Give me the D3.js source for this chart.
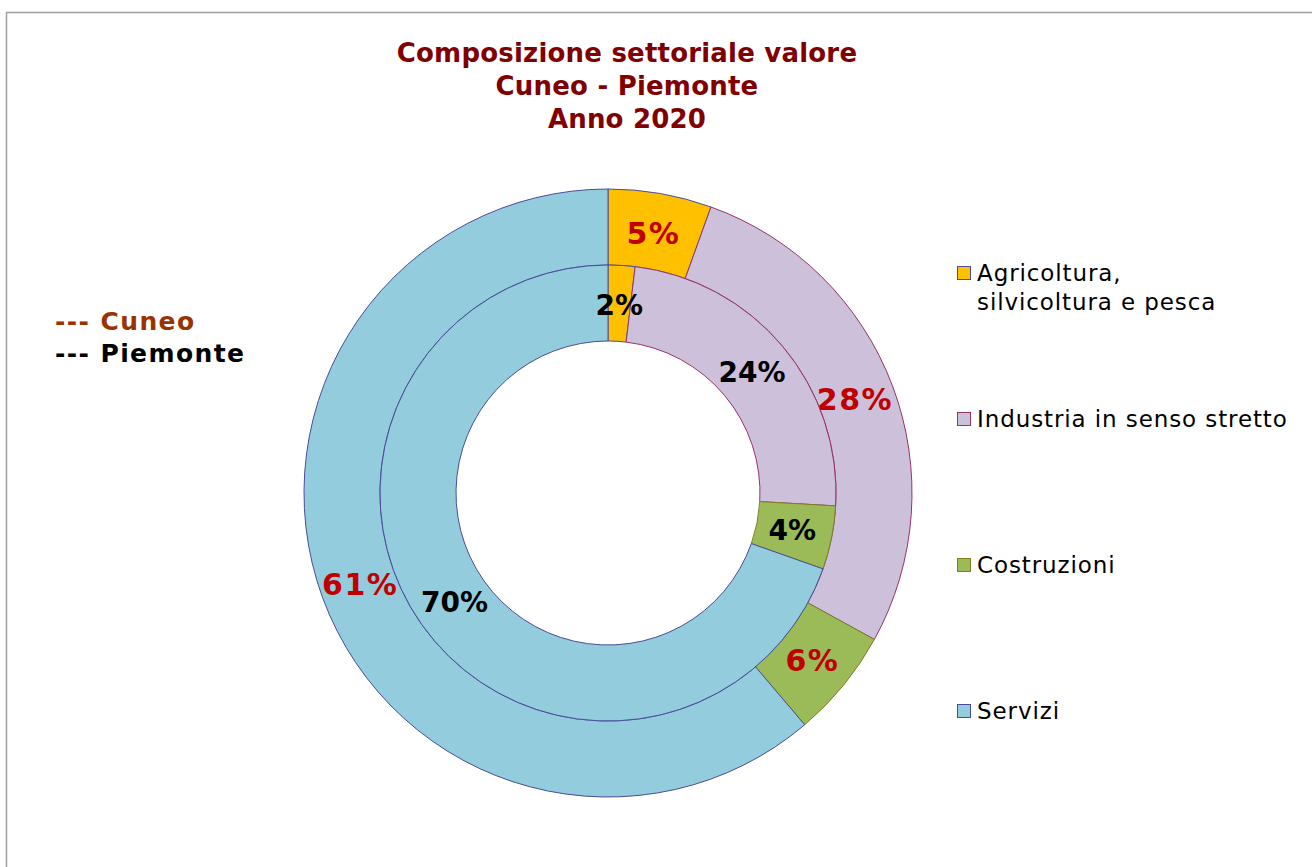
<!DOCTYPE html>
<html>
<head>
<meta charset="utf-8">
<script src="https://cdn.jsdelivr.net/npm/d3@7"></script>
<style>
  body { margin: 0; background: #fff; }
  svg text { font-family: "DejaVu Sans", Verdana, sans-serif; }
</style>
</head>
<body>
<div id="chart"></div>
<script>
// sectors and shares (%)
var categories = ["Agricoltura, silvicoltura e pesca", "Industria in senso stretto", "Costruzioni", "Servizi"];
var legendLines = [["Agricoltura,", "silvicoltura e pesca"], ["Industria in senso stretto"], ["Costruzioni"], ["Servizi"]];
var cuneo = [5.5, 27.5, 5.8, 61.2];
var piemonte = [1.9, 24.0, 4.5, 69.6];
var cuneoLabels = ["5%", "28%", "6%", "61%"];
var piemonteLabels = ["2%", "24%", "4%", "70%"];
var titleLines = ["Composizione settoriale valore", "Cuneo - Piemonte", "Anno 2020"];

var fills = ["#ffc000", "#ccc0da", "#9bbb59", "#93cddd"];
var strokes = ["#4b4ba0", "#993366", "#7f7f20", "#4b4b9a"];

var W = 1312, H = 867;
var cx = 608, cy = 493;
var rOuter = 304, rMid = 228, rInner = 152;

var svg = d3.select("#chart").append("svg")
    .attr("width", W)
    .attr("height", H);

// frame
svg.append("rect")
    .attr("x", 6.5).attr("y", 12.5)
    .attr("width", 1330).attr("height", 900)
    .attr("fill", "none")
    .attr("stroke", "#a0a0a0")
    .attr("stroke-width", 1.5);

// title
svg.append("text")
    .attr("x", 627).attr("y", 62)
    .attr("text-anchor", "middle")
    .attr("font-size", "26px")
    .attr("font-weight", "bold")
    .attr("letter-spacing", "0.2px")
    .attr("fill", "#800000")
  .selectAll("tspan")
    .data(titleLines)
  .enter().append("tspan")
    .attr("x", 627)
    .attr("dy", function(d, i){ return i == 0 ? 0 : 33; })
    .text(function(d){ return d; });

var pie = d3.pie().sort(null).value(function(d){ return d; });

var g = svg.append("g")
    .attr("transform", "translate(" + cx + "," + cy + ")");

function ring(values, labels, r0, r1, labelColor, size, spacing, cls){
    var arc = d3.arc().innerRadius(r0).outerRadius(r1);
    var labelArc = d3.arc().innerRadius((r0 + r1) / 2 - 2).outerRadius((r0 + r1) / 2 - 2);
    var arcs = pie(values);

    g.selectAll("." + cls + "Slice")
        .data(arcs)
      .enter().append("path")
        .attr("class", cls + "Slice")
        .attr("d", arc)
        .attr("fill", function(d, i){ return fills[i]; })
        .attr("stroke", function(d, i){ return strokes[i]; })
        .attr("stroke-width", 1);

    g.selectAll("." + cls + "Label")
        .data(arcs)
      .enter().append("text")
        .attr("class", cls + "Label")
        .attr("transform", function(d){ return "translate(" + labelArc.centroid(d) + ")"; })
        .attr("dy", "0.36em")
        .attr("text-anchor", "middle")
        .attr("font-size", size + "px")
        .attr("font-weight", "bold")
        .attr("letter-spacing", spacing + "px")
        .attr("fill", labelColor)
        .text(function(d, i){ return labels[i]; });
}

ring(cuneo, cuneoLabels, rMid, rOuter, "#c00000", 30, 1.5, "outer");
ring(piemonte, piemonteLabels, rInner, rMid, "#000000", 28, 0, "inner");

// series key on the left
var key = [["--- Cuneo", "#993300"], ["--- Piemonte", "#000000"]];
svg.selectAll(".keyText")
    .data(key)
  .enter().append("text")
    .attr("class", "keyText")
    .attr("x", 55)
    .attr("y", function(d, i){ return 330 + i * 32; })
    .attr("font-size", "25px")
    .attr("font-weight", "bold")
    .attr("letter-spacing", "1.4px")
    .attr("fill", function(d){ return d[1]; })
    .text(function(d){ return d[0]; });

// legend
var legendY = d3.scalePoint()
    .domain(categories)
    .range([273, 711]);

var leg = svg.selectAll(".legItem")
    .data(categories)
  .enter().append("g")
    .attr("class", "legItem")
    .attr("transform", function(d){ return "translate(957," + legendY(d) + ")"; });

leg.append("rect")
    .attr("x", 0.5).attr("y", -6.5)
    .attr("width", 13).attr("height", 13)
    .attr("fill", function(d, i){ return fills[i]; })
    .attr("stroke", function(d, i){ return strokes[i]; })
    .attr("stroke-width", 1);

leg.append("text")
    .attr("x", 20)
    .attr("y", 8)
    .attr("font-size", "23px")
    .attr("letter-spacing", "0.9px")
    .attr("fill", "#000")
  .selectAll("tspan")
    .data(function(d, i){ return legendLines[i]; })
  .enter().append("tspan")
    .attr("x", 20)
    .attr("dy", function(d, i){ return i == 0 ? 0 : 29; })
    .text(function(d){ return d; });
</script>
</body>
</html>
